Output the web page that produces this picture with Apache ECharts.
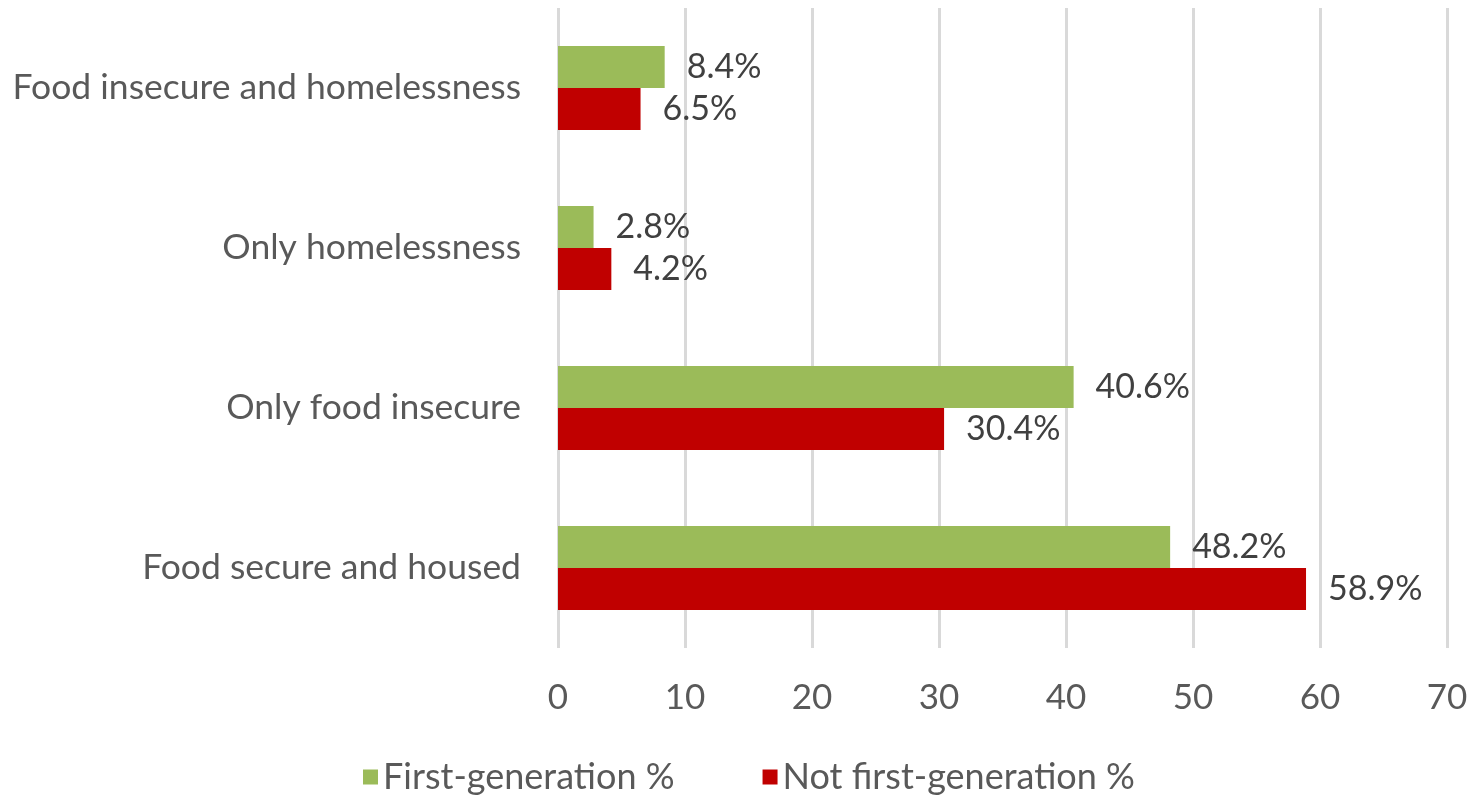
<!DOCTYPE html>
<html>
<head>
<meta charset="utf-8">
<script src="https://cdn.jsdelivr.net/npm/echarts@6/dist/echarts.min.js"></script>
<style>
html,body{margin:0;padding:0;background:#fff;}
#chart{width:1472px;height:802px;}
</style>
</head>
<body>
<div id="chart"></div>
<script>
const categories = ["Food insecure and homelessness", "Only homelessness", "Only food insecure", "Food secure and housed"];
const firstGen = [8.4, 2.8, 40.6, 48.2];
const notFirstGen = [6.5, 4.2, 30.4, 58.9];
const seriesNames = ["First-generation %", "Not first-generation %"];
const xTicks = {min: 0, max: 70, interval: 10};

const FONT = 'Lato';
const TXT = '#595959';
const chart = echarts.init(document.getElementById('chart'));
chart.setOption({
  animation: false,
  textStyle: {fontFamily: FONT},
  grid: {left: 558, right: 25, top: 8, bottom: 154},
  legend: {
    bottom: 2,
    left: 358,
    itemWidth: 15, itemHeight: 15, itemGap: 88,
    icon: 'rect',
    textStyle: {fontFamily: FONT, fontSize: 36, color: TXT},
    data: seriesNames
  },
  xAxis: {
    type: 'value',
    min: xTicks.min, max: xTicks.max, interval: xTicks.interval,
    axisLine: {show: false},
    axisTick: {show: false},
    splitLine: {lineStyle: {color: '#D9D9D9', width: 3}},
    axisLabel: {fontFamily: FONT, fontSize: 35, color: TXT, margin: 32}
  },
  yAxis: {
    type: 'category',
    inverse: true,
    data: categories,
    axisLine: {show: false},
    axisTick: {show: false},
    axisLabel: {fontFamily: FONT, fontSize: 35.5, color: TXT, margin: 37}
  },
  series: [
    {
      name: seriesNames[0], type: 'bar', data: firstGen,
      barWidth: 42, barGap: '0%',
      itemStyle: {color: '#9BBB59'},
      label: {show: true, position: 'right', distance: 22, formatter: p => p.value.toFixed(1) + '%',
        fontFamily: FONT, fontSize: 34, color: '#404040'}
    },
    {
      name: seriesNames[1], type: 'bar', data: notFirstGen,
      barWidth: 42, barGap: '0%',
      itemStyle: {color: '#C00000'},
      label: {show: true, position: 'right', distance: 22, formatter: p => p.value.toFixed(1) + '%',
        fontFamily: FONT, fontSize: 34, color: '#404040'}
    }
  ]
});
</script>
</body>
</html>
